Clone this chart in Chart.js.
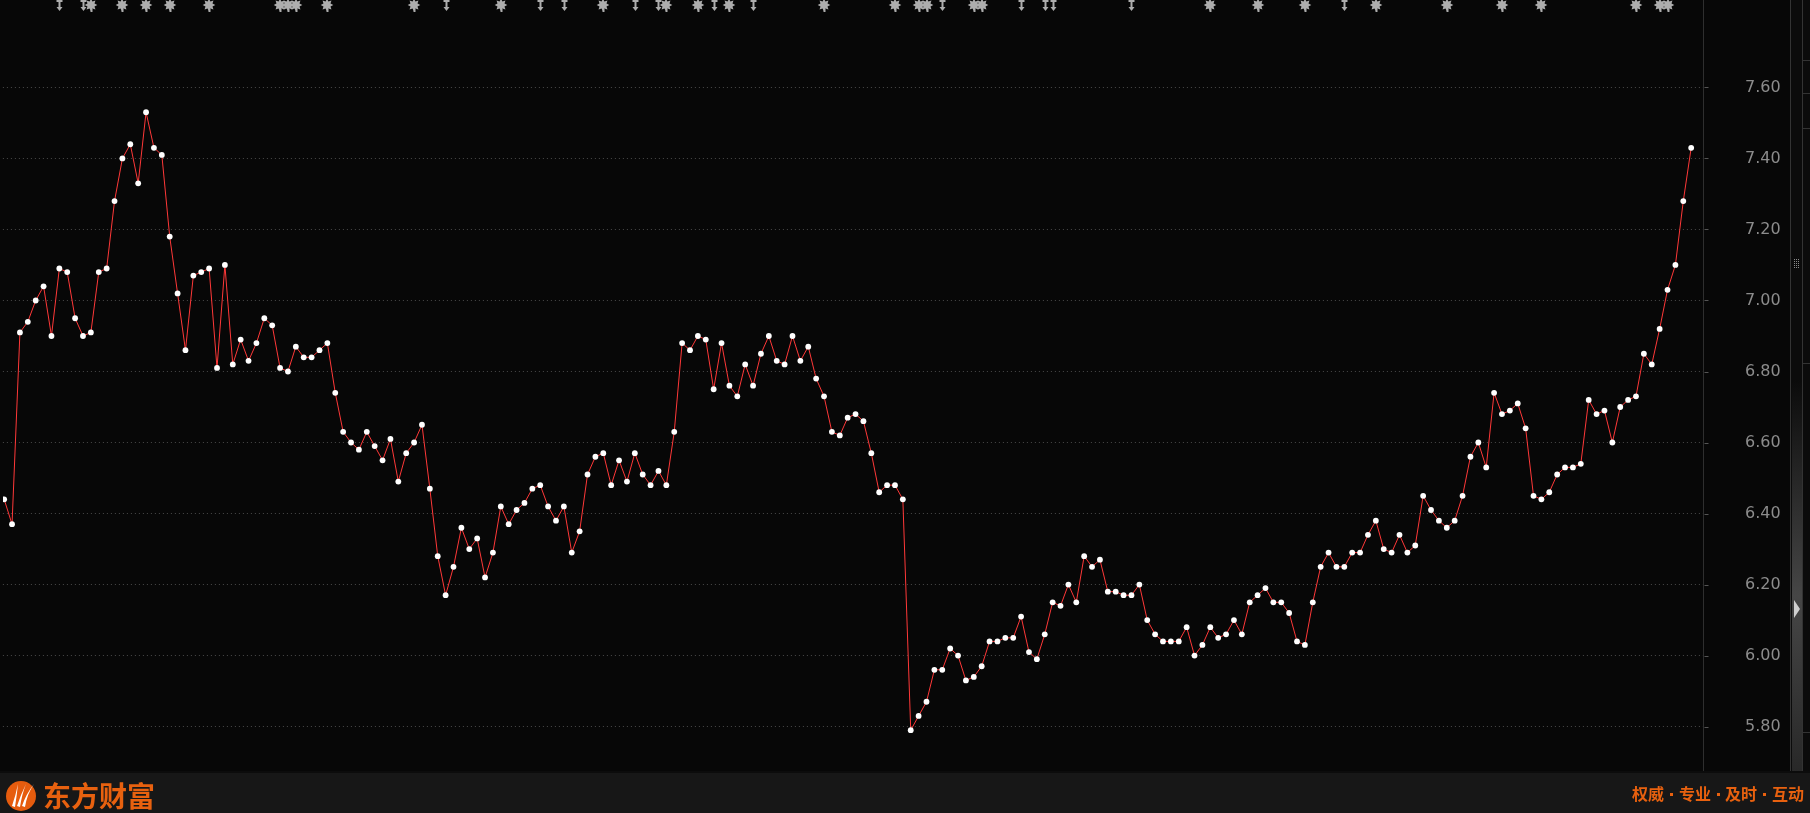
<!DOCTYPE html>
<html>
<head>
<meta charset="utf-8">
<script src="https://cdn.jsdelivr.net/npm/chart.js@4/dist/chart.umd.min.js"></script>
<style>
html, body { margin: 0; padding: 0; background: #070707; overflow: hidden; }
#wrap { width: 1810px; height: 813px; position: relative; }
</style>
</head>
<body>
<div id="wrap"><canvas id="priceChart" width="1810" height="813"></canvas></div>
<script>
// daily closing prices, oldest first
const prices = [
    6.44, 6.37, 6.91, 6.94, 7.00, 7.04, 6.90, 7.09, 7.08, 6.95, 6.90, 6.91, 7.08, 7.09, 7.28, 7.40,
    7.44, 7.33, 7.53, 7.43, 7.41, 7.18, 7.02, 6.86, 7.07, 7.08, 7.09, 6.81, 7.10, 6.82, 6.89, 6.83,
    6.88, 6.95, 6.93, 6.81, 6.80, 6.87, 6.84, 6.84, 6.86, 6.88, 6.74, 6.63, 6.60, 6.58, 6.63, 6.59,
    6.55, 6.61, 6.49, 6.57, 6.60, 6.65, 6.47, 6.28, 6.17, 6.25, 6.36, 6.30, 6.33, 6.22, 6.29,
    6.42, 6.37, 6.41, 6.43, 6.47, 6.48, 6.42, 6.38, 6.42, 6.29, 6.35, 6.51, 6.56, 6.57, 6.48, 6.55,
    6.49, 6.57, 6.51, 6.48, 6.52, 6.48, 6.63, 6.88, 6.86, 6.90, 6.89, 6.75, 6.88, 6.76, 6.73,
    6.82, 6.76, 6.85, 6.90, 6.83, 6.82, 6.90, 6.83, 6.87, 6.78, 6.73, 6.63, 6.62, 6.67, 6.68, 6.66,
    6.57, 6.46, 6.48, 6.48, 6.44, 5.79, 5.83, 5.87, 5.96, 5.96, 6.02, 6.00, 5.93, 5.94, 5.97,
    6.04, 6.04, 6.05, 6.05, 6.11, 6.01, 5.99, 6.06, 6.15, 6.14, 6.20, 6.15, 6.28, 6.25, 6.27, 6.18,
    6.18, 6.17, 6.17, 6.20, 6.10, 6.06, 6.04, 6.04, 6.04, 6.08, 6.00, 6.03, 6.08, 6.05, 6.06,
    6.10, 6.06, 6.15, 6.17, 6.19, 6.15, 6.15, 6.12, 6.04, 6.03, 6.15, 6.25, 6.29, 6.25, 6.25, 6.29,
    6.29, 6.34, 6.38, 6.30, 6.29, 6.34, 6.29, 6.31, 6.45, 6.41, 6.38, 6.36, 6.38, 6.45, 6.56,
    6.60, 6.53, 6.74, 6.68, 6.69, 6.71, 6.64, 6.45, 6.44, 6.46, 6.51, 6.53, 6.53, 6.54, 6.72, 6.68,
    6.69, 6.60, 6.70, 6.72, 6.73, 6.85, 6.82, 6.92, 7.03, 7.10, 7.28, 7.43
];

// right axis tick values
const yTicks = [5.80, 6.00, 6.20, 6.40, 6.60, 6.80, 7.00, 7.20, 7.40, 7.60];

// event markers along the top (index of the trading day)
const starMarks = [11, 15, 18, 21, 26, 35, 36, 37, 41, 52, 63, 76, 84, 88, 92, 104, 113, 116, 117,
    123, 124, 153, 159, 165, 174, 183, 190, 195, 207, 210, 211];
const arrowMarks = [7, 10, 56, 68, 71, 80, 83, 90, 95, 119, 129, 132, 133, 143, 170];

const brandName = '东方财富';
const sloganWords = ['权威', '专业', '及时', '互动'];

// build point table for the line
const points = prices.map((p, i) => ({ x: i, y: p }));

// background, frame, footer and markers
const decorPlugin = {
    id: 'decor',
    beforeDraw(chart) {
        const ctx = chart.ctx;
        ctx.save();
        ctx.fillStyle = '#070707';
        ctx.fillRect(0, 0, chart.width, chart.height);
        ctx.restore();
    },
    afterDraw(chart) {
        const ctx = chart.ctx;
        const xs = chart.scales.x;
        const ys = chart.scales.y;
        const area = chart.chartArea;
        const axisX = Math.round(area.right) + 0.5;
        ctx.save();

        // separator line + short ticks
        ctx.strokeStyle = '#2e2e2e';
        ctx.lineWidth = 1;
        ctx.beginPath();
        ctx.moveTo(axisX, 0);
        ctx.lineTo(axisX, 772);
        ctx.stroke();
        ctx.strokeStyle = '#555';
        ctx.beginPath();
        yTicks.forEach(v => {
            const y = Math.round(ys.getPixelForValue(v)) + 0.5;
            ctx.moveTo(axisX + 1, y); ctx.lineTo(axisX + 5, y);
        });
        ctx.stroke();

        // scroll strip
        ctx.fillStyle = '#0b0b0b';
        ctx.fillRect(1791, 0, 19, 772);
        const g = ctx.createLinearGradient(0, 380, 0, 772);
        g.addColorStop(0, 'rgba(70,70,70,0)');
        g.addColorStop(0.55, 'rgba(70,70,70,1)');
        g.addColorStop(1, 'rgba(40,40,40,1)');
        ctx.fillStyle = g;
        ctx.fillRect(1792, 380, 10, 392);
        ctx.strokeStyle = '#333';
        ctx.beginPath();
        ctx.moveTo(1790.5, 0); ctx.lineTo(1790.5, 772);
        ctx.moveTo(1802.5, 0); ctx.lineTo(1802.5, 772);
        [60, 93, 128, 363, 732].forEach(y => {
            ctx.moveTo(1803, y + 0.5); ctx.lineTo(1810, y + 0.5);
        });
        ctx.stroke();
        // grip
        ctx.fillStyle = '#8a8a8a';
        for (let r = 0; r < 5; r++) {
            for (let c = 0; c < 3; c++) {
                ctx.fillRect(1794 + c * 2, 259 + r * 2, 1, 1);
            }
        }
        // little arrow
        ctx.fillStyle = '#cfcfcf';
        ctx.beginPath();
        ctx.moveTo(1794, 600); ctx.lineTo(1800, 609); ctx.lineTo(1794, 618);
        ctx.closePath();
        ctx.fill();

        // top markers
        ctx.fillStyle = '#adadad';
        starMarks.forEach(i => {
            const x = Math.round(xs.getPixelForValue(i));
            ctx.beginPath();
            for (let k = 0; k < 16; k++) {
                const a = k * Math.PI / 8;
                const r = k % 2 ? 3.8 : 6.3;
                const px = x + r * Math.cos(a), py = 5 + r * Math.sin(a);
                if (k === 0) ctx.moveTo(px, py); else ctx.lineTo(px, py);
            }
            ctx.closePath();
            ctx.fill();
            ctx.fillRect(x - 0.5, 9, 2, 3);
        });
        arrowMarks.forEach(i => {
            const x = Math.round(xs.getPixelForValue(i));
            ctx.fillRect(x - 2.5, 0, 6, 2);
            ctx.fillRect(x - 0.5, 2, 2, 6);
            ctx.beginPath();
            ctx.moveTo(x - 2.5, 7); ctx.lineTo(x + 3.5, 7); ctx.lineTo(x + 0.5, 11);
            ctx.closePath();
            ctx.fill();
        });

        // footer bar
        ctx.fillStyle = '#0c0c0c';
        ctx.fillRect(0, 771, chart.width, 2);
        ctx.fillStyle = '#171717';
        ctx.fillRect(0, 773, chart.width, 40);

        // logo
        ctx.fillStyle = '#e65c0e';
        ctx.beginPath();
        ctx.arc(21, 796, 15, 0, Math.PI * 2);
        ctx.fill();
        ctx.fillStyle = '#ffffff';
        [[-7, 4], [-2, 7], [3, 10]].forEach(([dx, len]) => {
            ctx.beginPath();
            ctx.moveTo(21 + dx - 2, 806);
            ctx.quadraticCurveTo(21 + dx + 2, 794, 21 + dx + len, 784);
            ctx.quadraticCurveTo(21 + dx + 3, 794, 21 + dx + 1, 807);
            ctx.closePath();
            ctx.fill();
        });

        ctx.fillStyle = '#e8610f';
        ctx.textBaseline = 'middle';
        ctx.textAlign = 'left';
        ctx.font = 'bold 28px "Noto Sans CJK SC"';
        ctx.fillText(brandName, 43, 796);

        // slogan: words with small dots between
        ctx.font = 'bold 16px "Noto Sans CJK SC"';
        const pitch = 46.5;
        const startX = 1632;
        sloganWords.forEach((w, k) => {
            const wx = Math.round(startX + k * pitch);
            ctx.fillText(w, wx, 794);
            if (k < sloganWords.length - 1) {
                ctx.fillRect(wx + 38, 793, 3, 3);
            }
        });
        ctx.restore();
    }
};

const ctx = document.getElementById('priceChart').getContext('2d');
new Chart(ctx, {
    type: 'line',
    data: {
        datasets: [{
            data: points,
            borderColor: '#ff3838',
            borderWidth: 1,
            tension: 0,
            pointRadius: 2.9,
            pointBackgroundColor: '#ffffff',
            pointBorderWidth: 0,
            pointHoverRadius: 0
        }]
    },
    options: {
        responsive: false,
        animation: false,
        devicePixelRatio: 1,
        layout: { padding: { left: 0, top: 0, right: 30, bottom: 42 } },
        plugins: { legend: { display: false }, tooltip: { enabled: false } },
        scales: {
            x: {
                type: 'linear',
                display: false,
                min: -0.16,
                max: 215.5
            },
            y: {
                position: 'right',
                min: 5.675,
                max: 7.838,
                afterBuildTicks: (s) => { s.ticks = yTicks.map(v => ({ value: v })); },
                afterFit: (s) => {
                    s.width = 77;
                    s.paddingTop = 0;
                    s.paddingBottom = 0;
                },
                grid: {
                    color: '#4a4a4a',
                    drawTicks: false
                },
                border: { display: false, dash: [1, 3] },
                ticks: {
                    padding: 42,
                    color: '#8c8c8c',
                    font: { family: 'DejaVu Sans', size: 16 },
                    callback: (v) => Number(v).toFixed(2)
                }
            }
        }
    },
    plugins: [decorPlugin]
});
</script>
</body>
</html>
